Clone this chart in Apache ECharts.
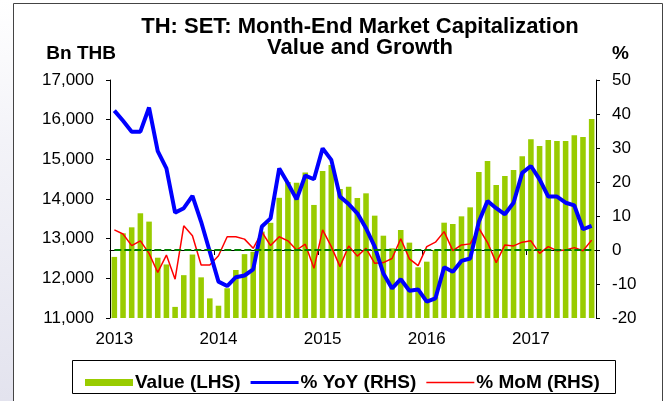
<!DOCTYPE html>
<html>
<head>
<meta charset="utf-8">
<script src="https://cdn.jsdelivr.net/npm/echarts@6/dist/echarts.min.js"></script>
<style>
  html, body { margin: 0; padding: 0; background: #fff; }
  #chart { width: 669px; height: 401px; }
</style>
</head>
<body>
<div id="chart"></div>
<script>
// month-end values, Jan 2013 .. Aug 2017
var years = ['2013', '2014', '2015', '2016', '2017'];
var monthsInLastYear = 8;

var valueLHS = [
  12540, 13135, 13286, 13640, 13430, 12520, 12350, 11280, 12080, 12600, 12025, 11495,
  11310, 11750, 12210, 12610, 12670, 13180, 13400, 14030, 14430, 14410, 14670, 13850,
  14705, 14857, 14250, 14310, 14025, 14143, 13580, 13075, 12757, 13218, 12900, 12278,
  12420, 12714, 13403, 13370, 13563, 13790, 14680, 14957, 14353, 14580, 14730, 15075,
  15504, 15336, 15487, 15462, 15462, 15605, 15563, 16016
];
var yoyRHS = [
  41.0, 38.0, 34.8, 34.8, 41.9, 29.1, 24.0, 11.0, 12.3, 15.9, 8.3, -0.5,
  -9.3, -10.6, -8.0, -7.5, -5.7, 6.9, 9.3, 24.0, 19.6, 14.9, 21.9, 20.8,
  29.9, 26.5, 15.7, 13.5, 10.8, 6.4, 1.0, -6.9, -11.3, -8.6, -12.0, -11.6,
  -15.2, -14.2, -5.1, -6.4, -3.2, -2.5, 8.3, 14.4, 12.3, 10.5, 13.9, 22.7,
  24.7, 20.8, 15.7, 15.7, 13.9, 13.1, 6.1, 7.1
];
var momRHS = [
  5.9, 4.7, 1.3, 2.7, -1.0, -6.6, -1.5, -8.6, 7.1, 4.2, -4.4, -4.4,
  -1.7, 3.9, 3.9, 3.2, 0.5, 5.3, 1.3, 3.9, 2.7, 0.0, 1.7, -5.4,
  5.9, 1.0, -4.9, 1.2, -1.8, 0.5, -3.9, -3.7, -2.5, 3.3, -2.6, -4.6,
  1.0, 2.3, 5.4, -0.2, 1.5, 1.8, 6.4, 2.2, -3.7, 1.5, 1.2, 2.3,
  2.7, -1.0, 1.0, -0.2, 0.0, 0.7, -0.2, 2.9
];

// category labels: yyyy-mm
var categories = [];
years.forEach(function (y, yi) {
  var n = yi === years.length - 1 ? monthsInLastYear : 12;
  for (var m = 1; m <= n; m++) categories.push(y + '-' + (m < 10 ? '0' + m : m));
});

var FONT = 'Liberation Sans, Arial, sans-serif';
var isJan = function (i) { return i % 12 === 0; };

// legend swatches: empty subpaths at top/bottom keep the box 7 high
var thickLine = 'path://M0,0L48,0Z M0,2H48V5H0Z M0,7L48,7Z';
var thinLine = 'path://M0,0L48,0Z M0,2.7H48V4.3H0Z M0,7L48,7Z';

var myChart = echarts.init(document.getElementById('chart'));
myChart.setOption({
  animation: false,
  backgroundColor: '#fff',
  title: {
    text: 'TH: SET: Month-End Market Capitalization\nValue and Growth',
    left: 355,
    top: 11,
    textAlign: 'center',
    textStyle: { fontFamily: FONT, fontSize: 22, fontWeight: 'bold', color: '#000', lineHeight: 21 }
  },
  graphic: [
    {
      type: 'rect', silent: true, z: -10,
      shape: { x: 0, y: 0, width: 13, height: 401 },
      style: {
        fill: new echarts.graphic.LinearGradient(0, 0, 0, 1, [
          { offset: 0, color: '#ffffff' }, { offset: 0.35, color: '#f3f3f8' }, { offset: 1, color: '#e3e3ee' }
        ])
      }
    },
    {
      type: 'rect', silent: true, z: 100,
      shape: { x: 13.5, y: 3.5, width: 649, height: 420 },
      style: { fill: 'none', stroke: '#444', lineWidth: 1 }
    },
    {
      type: 'rect', silent: true, z: 100,
      shape: { x: 72.5, y: 360.5, width: 543, height: 33 },
      style: { fill: 'none', stroke: '#000', lineWidth: 1 }
    }
  ],
  legend: {
    left: 80,
    top: 368,
    itemWidth: 48,
    itemHeight: 7,
    itemGap: 10,
    textStyle: { fontFamily: FONT, fontSize: 19, fontWeight: 'bold', color: '#000', padding: [0, 0, 0, -3] },
    data: [
      { name: 'Value (LHS)', icon: 'rect' },
      { name: '% YoY (RHS)', icon: thickLine },
      { name: '% MoM (RHS)', icon: thinLine }
    ]
  },
  grid: { left: 110, right: 73, top: 80, bottom: 83 },
  xAxis: {
    type: 'category',
    data: categories,
    boundaryGap: true,
    axisLine: { lineStyle: { color: '#000', width: 1 } },
    axisTick: { show: true, inside: false, length: 5, interval: isJan, lineStyle: { color: '#000' } },
    axisLabel: {
      interval: isJan,
      margin: 13,
      fontFamily: FONT, fontSize: 17, color: '#000',
      formatter: function (v) { return v.slice(0, 4); }
    },
    splitLine: { show: false }
  },
  yAxis: [
    {
      type: 'value',
      name: 'Bn THB',
      nameLocation: 'end',
      nameGap: 26,
      nameTextStyle: { fontFamily: FONT, fontSize: 19, fontWeight: 'bold', color: '#000', align: 'right', verticalAlign: 'middle', padding: [0, -6, 0, 0] },
      min: 11000, max: 17000, interval: 1000,
      position: 'left',
      axisLine: { show: true, lineStyle: { color: '#000', width: 1 } },
      axisTick: { show: true, inside: false, length: 4, lineStyle: { color: '#000' } },
      axisLabel: {
        margin: 16, fontFamily: FONT, fontSize: 17, color: '#000',
        formatter: function (v) { return v.toLocaleString('en-US'); }
      },
      splitLine: { show: false }
    },
    {
      type: 'value',
      name: '%',
      nameLocation: 'end',
      nameGap: 26,
      nameTextStyle: { fontFamily: FONT, fontSize: 19, fontWeight: 'bold', color: '#000', align: 'left', verticalAlign: 'middle', padding: [0, 0, 0, 16] },
      min: -20, max: 50, interval: 10,
      position: 'right',
      axisLine: { show: true, lineStyle: { color: '#000', width: 1 } },
      axisTick: { show: true, inside: false, length: 4, lineStyle: { color: '#000' } },
      axisLabel: { margin: 16, fontFamily: FONT, fontSize: 17, color: '#000' },
      splitLine: { show: false }
    }
  ],
  series: [
    {
      name: 'Value (LHS)',
      type: 'bar',
      yAxisIndex: 0,
      data: valueLHS,
      barCategoryGap: '36%',
      itemStyle: { color: '#99CC00' },
      z: 1
    },
    {
      name: '% MoM (RHS)',
      type: 'line',
      yAxisIndex: 1,
      data: momRHS,
      symbol: 'none',
      lineStyle: { color: '#FF0000', width: 1.5 },
      itemStyle: { color: '#FF0000' },
      z: 3,
      markLine: {
        silent: true,
        symbol: 'none',
        label: { show: false },
        lineStyle: { color: '#008000', type: [7, 3], width: 2 },
        data: [[{ xAxis: 0, yAxis: 0 }, { xAxis: categories.length - 1, yAxis: 0 }]]
      }
    },
    {
      name: '% YoY (RHS)',
      type: 'line',
      yAxisIndex: 1,
      data: yoyRHS,
      symbol: 'none',
      lineStyle: { color: '#0000FF', width: 4 },
      itemStyle: { color: '#0000FF' },
      z: 4
    }
  ]
});
</script>
</body>
</html>
